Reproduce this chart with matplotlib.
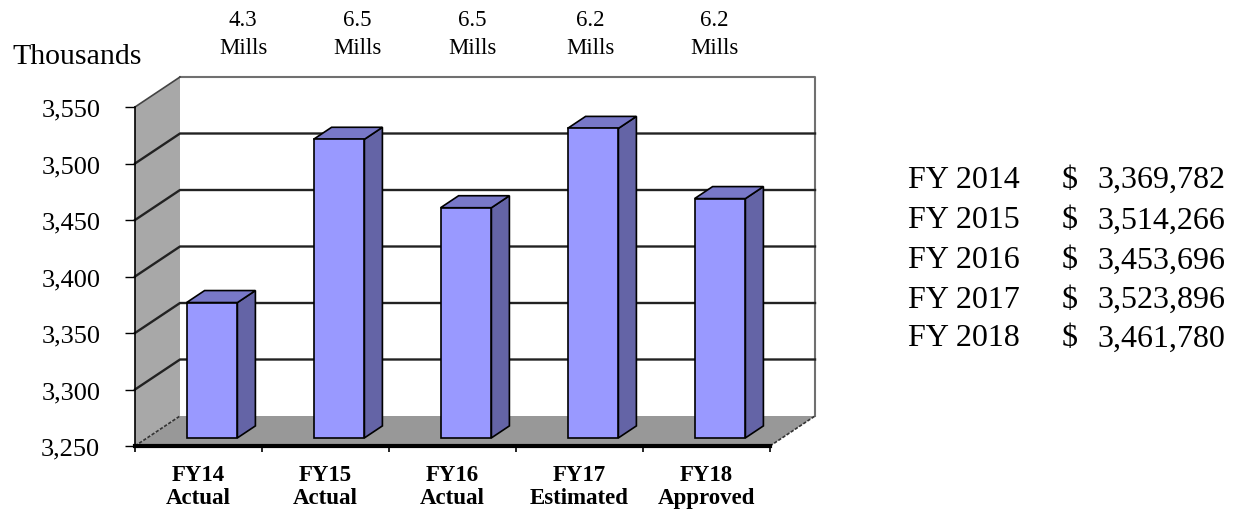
import numpy as np
import matplotlib.pyplot as plt
from matplotlib.patches import Polygon

# values in thousands of dollars
categories = ["FY14\nActual", "FY15\nActual", "FY16\nActual", "FY17\nEstimated", "FY18\nApproved"]
values = [3369.782, 3514.266, 3453.696, 3523.896, 3461.780]
mills = ["4.3", "6.5", "6.5", "6.2", "6.2"]
fiscal_years = ["FY 2014", "FY 2015", "FY 2016", "FY 2017", "FY 2018"]
yticks = [3250, 3300, 3350, 3400, 3450, 3500, 3550]

W, H = 1243, 510
plt.rcParams["font.family"] = ["Liberation Serif", "DejaVu Serif"]

fig = plt.figure(figsize=(W / 100, H / 100), dpi=100)
# front plane of the 3d box, in pixels
L, R, T, B = 135, 770, 108, 447
ax = fig.add_axes([L / W, 1 - B / H, (R - L) / W, (B - T) / H])
ax.set_xlim(0, 5)
ax.set_ylim(3250, 3550)
ax.patch.set_visible(False)

# depth of the box in data units (45 px right, 30 px up)
px_x = 5 / (R - L)
px_y = 300 / (B - T)
DX, DY = 45 * px_x, 30 * px_y
y0, y1 = 3250, 3550

wall_gray = "#a8a8a8"
floor_gray = "#989898"

# back wall, side wall and floor
ax.add_patch(Polygon([(DX, y0 + DY), (DX, y1 + DY), (5 + DX, y1 + DY), (5 + DX, y0 + DY)],
                     closed=True, facecolor="white", edgecolor="none", clip_on=False, zorder=1))
ax.add_patch(Polygon([(0, y0), (0, y1), (DX, y1 + DY), (DX, y0 + DY)],
                     closed=True, facecolor=wall_gray, edgecolor="none", clip_on=False, zorder=1))
ax.add_patch(Polygon([(0, y0), (DX, y0 + DY), (5 + DX, y0 + DY), (5, y0)],
                     closed=True, facecolor=floor_gray, edgecolor="none", clip_on=False, zorder=1))

# outer edges of the walls
ax.plot([DX, 5 + DX, 5 + DX], [y1 + DY, y1 + DY, y0 + DY], color="#707070", lw=1.5,
        clip_on=False, zorder=2)
ax.plot([0, DX], [y0, y0 + DY], color="#333333", lw=1.2, ls=(0, (2, 1)), clip_on=False, zorder=2)
ax.plot([5, 5 + DX], [y0, y0 + DY], color="#333333", lw=1.2, ls=(0, (2, 1)), clip_on=False, zorder=2)
ax.plot([0, DX], [y1, y1 + DY], color="#444444", lw=1.2, clip_on=False, zorder=2)

# gridlines across side wall and back wall
for v in yticks[1:-1]:
    ax.plot([0, DX, 5 + DX], [v, v + DY, v + DY], color="#222222", lw=1.7,
            clip_on=False, zorder=2)

# bars
front_x, front_y = 0.3 * DX, 0.27 * DY
bdx, bdy = 0.4 * DX, 0.4 * DY
bw = 0.4
for i, v in enumerate(values):
    x0 = i + 0.5 - bw / 2 + front_x
    x1 = x0 + bw
    yb = y0 + front_y
    yt = v + front_y
    ax.add_patch(Polygon([(x1, yb), (x1, yt), (x1 + bdx, yt + bdy), (x1 + bdx, yb + bdy)],
                         closed=True, facecolor="#6464a6", edgecolor="black", lw=1.2,
                         clip_on=False, zorder=3))
    ax.add_patch(Polygon([(x0, yt), (x0 + bdx, yt + bdy), (x1 + bdx, yt + bdy), (x1, yt)],
                         closed=True, facecolor="#7878c8", edgecolor="black", lw=1.2,
                         clip_on=False, zorder=3))
    ax.add_patch(Polygon([(x0, yb), (x0, yt), (x1, yt), (x1, yb)],
                         closed=True, facecolor="#9999ff", edgecolor="black", lw=1.2,
                         clip_on=False, zorder=3))

# front axes
for side in ["top", "right"]:
    ax.spines[side].set_visible(False)
ax.spines["left"].set_linewidth(1.2)
ax.spines["bottom"].set_linewidth(3)
ax.spines["left"].set_zorder(4)
ax.spines["bottom"].set_zorder(4)

ax.set_yticks(yticks)
ax.set_yticklabels([f"{v:,}" for v in yticks], fontsize=19)
ax.tick_params(axis="y", direction="out", length=7, width=1, pad=18)

ax.set_xticks(np.arange(0, 6))
ax.set_xticklabels([])
ax.tick_params(axis="x", which="major", direction="out", length=4, width=1.2)
ax.set_xticks(np.arange(5) + 0.5, minor=True)
ax.set_xticklabels(categories, minor=True, fontsize=16.5, fontweight="bold", linespacing=1.1)
ax.tick_params(axis="x", which="minor", length=0, pad=13)

fig.text(12 / W, 1 - 57 / H, "Thousands", fontsize=21.5, ha="left", va="center")

# mill rates above the chart
mill_x = [243, 357, 472, 590, 714]
for xm, m in zip(mill_x, mills):
    fig.text(xm / W, 1 - 21 / H, m, fontsize=16.5, ha="center", va="center")
    fig.text(xm / W, 1 - 48 / H, "Mills", fontsize=16.5, ha="center", va="center")

# summary table
row_y = [180, 221, 261, 300, 339]
for ry, fy, v in zip(row_y, fiscal_years, values):
    fig.text(908 / W, 1 - ry / H, fy, fontsize=23, ha="left", va="center")
    fig.text(1062 / W, 1 - ry / H, "$", fontsize=23, ha="left", va="center")
    fig.text(1225 / W, 1 - ry / H, f"{v * 1000:,.0f}", fontsize=23, ha="right", va="center")

fig.savefig("out.png", dpi=100)
